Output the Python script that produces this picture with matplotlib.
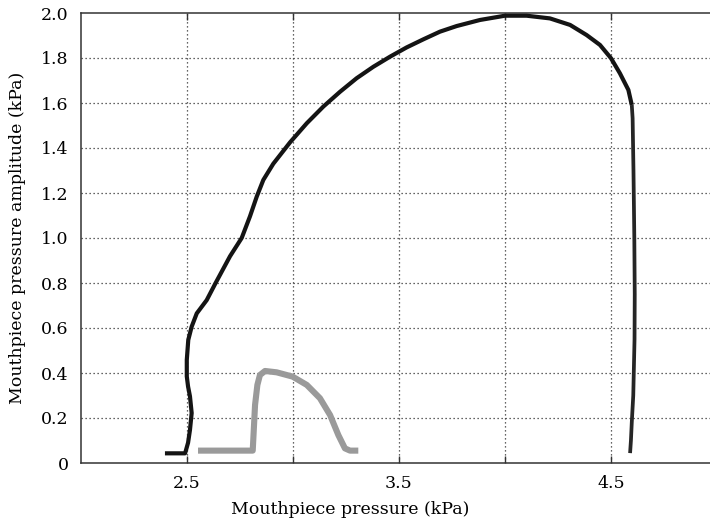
import matplotlib
matplotlib.use("Agg")
import matplotlib.pyplot as plt

# Oscillation threshold curves: pressure amplitude vs. mouthpiece pressure (kPa)
black_p = [2.396, 2.491, 2.505, 2.514, 2.522, 2.514, 2.505, 2.499, 2.499, 2.506, 2.522,
           2.546, 2.593, 2.635, 2.703, 2.758, 2.797, 2.829, 2.860, 2.907, 2.986,
           3.065, 3.143, 3.222, 3.300, 3.379, 3.458, 3.536, 3.615, 3.693, 3.772,
           3.882, 4.000, 4.102, 4.212, 4.307, 4.385, 4.448, 4.500, 4.542, 4.582,
           4.598]
black_a = [0.043, 0.043, 0.090, 0.147, 0.222, 0.296, 0.340, 0.385, 0.458, 0.547, 0.606,
           0.665, 0.724, 0.800, 0.919, 1.000, 1.096, 1.184, 1.258, 1.330, 1.425,
           1.510, 1.584, 1.650, 1.710, 1.761, 1.806, 1.847, 1.883, 1.917, 1.942,
           1.969, 1.988, 1.988, 1.976, 1.947, 1.902, 1.858, 1.799, 1.732, 1.658,
           1.591]

# Descending branch near 4.6 kPa
desc_p = [4.598, 4.602, 4.606, 4.610, 4.612, 4.611, 4.605, 4.598, 4.594, 4.590]
desc_a = [1.591, 1.532, 1.300, 1.000, 0.750, 0.550, 0.300, 0.180, 0.100, 0.044]

grey_p = [2.552, 2.810, 2.813, 2.821, 2.832, 2.844, 2.868, 2.923, 2.998, 3.065,
          3.127, 3.175, 3.214, 3.245, 3.269, 3.308]
grey_a = [0.055, 0.055, 0.110, 0.258, 0.347, 0.391, 0.409, 0.403, 0.384, 0.347,
          0.288, 0.213, 0.124, 0.065, 0.055, 0.055]

x_grid = [2.5, 3.0, 3.5, 4.0, 4.5]
x_tick_labels = ["2.5", "", "3.5", "", "4.5"]
y_ticks = [0.0, 0.2, 0.4, 0.6, 0.8, 1.0, 1.2, 1.4, 1.6, 1.8, 2.0]
y_tick_labels = ["0", "0.2", "0.4", "0.6", "0.8", "1.0", "1.2", "1.4", "1.6", "1.8", "2.0"]

plt.rcParams["font.family"] = ["DejaVu Serif"]

fig = plt.figure(figsize=(7.10, 5.28), dpi=100)
ax = fig.add_axes([81 / 710, 65 / 528, 636 / 710, 450 / 528])

ax.set_xlim(2.0, 5.0)
ax.set_ylim(0.0, 2.0)

grid_kw = dict(color="#333333", lw=0.9, ls=(0, (1, 2.2)), zorder=0)
for gx in x_grid:
    ax.axvline(gx, **grid_kw)
for gy in y_ticks[1:-1]:
    ax.axhline(gy, **grid_kw)

ax.plot(grey_p, grey_a, color="#9a9a9a", lw=4.4, solid_capstyle="butt",
        solid_joinstyle="round", zorder=3)
ax.plot(black_p, black_a, color="#141414", lw=3.0, solid_capstyle="butt",
        solid_joinstyle="round", zorder=4)
ax.plot(desc_p, desc_a, color="#262626", lw=2.7, solid_capstyle="butt",
        solid_joinstyle="round", zorder=4)

ax.set_xticks(x_grid)
ax.set_xticklabels(x_tick_labels)
ax.set_yticks(y_ticks)
ax.set_yticklabels(y_tick_labels)

ax.tick_params(axis="x", direction="in", length=5, width=1, top=True, bottom=True,
               labelsize=12.5, pad=9, color="#333333")
ax.tick_params(axis="y", direction="in", length=0, labelsize=12.5, pad=9)

for side in ("left", "bottom", "top"):
    ax.spines[side].set_color("#333333")
    ax.spines[side].set_linewidth(1.1)
ax.spines["right"].set_visible(False)

ax.set_xlabel("Mouthpiece pressure (kPa)", fontsize=12.5)
ax.set_ylabel("Mouthpiece pressure amplitude (kPa)", fontsize=12.5)
ax.xaxis.set_label_coords((350 - 81) / 636, (463 - 510) / 450)
ax.yaxis.set_label_coords((18 - 81) / 636, 0.5)
ax.xaxis.label.set_verticalalignment("center")
ax.yaxis.label.set_verticalalignment("center")

fig.savefig("out.png", dpi=100)
